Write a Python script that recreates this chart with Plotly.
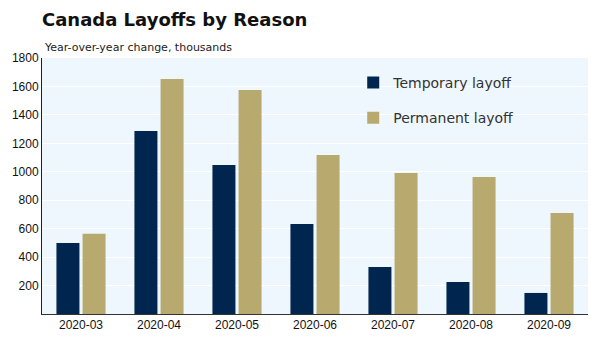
import plotly.graph_objects as go

months = ["2020-03", "2020-04", "2020-05", "2020-06", "2020-07", "2020-08", "2020-09"]
temporary = [500, 1287, 1048, 633, 330, 225, 148]
permanent = [565, 1653, 1575, 1118, 992, 963, 710]
y_ticks = [200, 400, 600, 800, 1000, 1200, 1400, 1600, 1800]

fig = go.Figure()
fig.add_trace(go.Bar(x=months, y=temporary, name="Temporary layoff",
                     marker=dict(color="#00264F", line=dict(width=0)),
                     legendgroup="a"))
fig.add_trace(go.Bar(x=months, y=permanent, name="Permanent layoff",
                     marker=dict(color="#B8A96E", line=dict(width=0)),
                     legendgroup="b"))

fig.update_layout(
    width=600, height=351,
    margin=dict(l=42, r=12, t=58, b=37),
    paper_bgcolor="white",
    plot_bgcolor="#EEF6FE",
    barmode="group", bargap=0.33, bargroupgap=0.12,
    font=dict(family="DejaVu Sans", color="#222"),
    legend=dict(x=0.57, y=0.965, xanchor="left", yanchor="top", itemwidth=30,
                bgcolor="rgba(0,0,0,0)", font=dict(size=14, color="#333"),
                traceorder="grouped", tracegroupgap=14),
    showlegend=True,
    title=dict(text="<b>Canada Layoffs by Reason</b>", x=42/600, xanchor="left",
               y=1 - 20/351, yanchor="middle",
               font=dict(size=18, color="#111", family="DejaVu Sans")),
    annotations=[dict(text="Year-over-year change, thousands", xref="paper", yref="paper",
                      x=0, y=1, xanchor="left", yanchor="bottom", yshift=2,
                      showarrow=False, font=dict(size=11, color="#222"))],
)
fig.update_xaxes(type="category", showline=True, linecolor="#333", linewidth=1, ticks="",
                 tickfont=dict(size=12, family="Liberation Sans", color="#111"), showgrid=False)
fig.update_yaxes(range=[0, 1800], tickvals=y_ticks, showline=True, linecolor="#222", linewidth=1,
                 gridcolor="#FFFFFF", gridwidth=1, zeroline=False,
                 tickfont=dict(size=12, family="Liberation Sans", color="#111"))

fig.write_html("out.html")
